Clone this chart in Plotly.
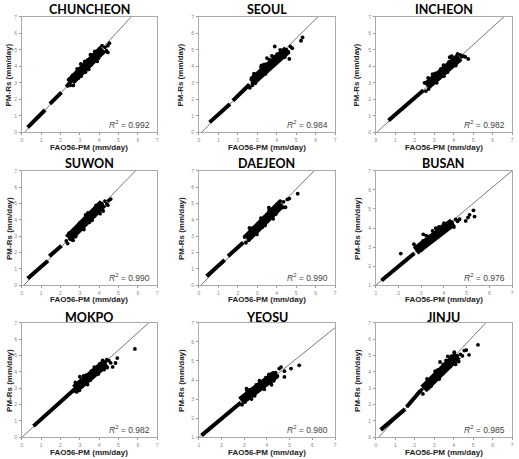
import plotly.graph_objects as go

# ---------------- data ----------------
stations = ["CHUNCHEON", "SEOUL", "INCHEON", "SUWON", "DAEJEON", "BUSAN", "MOKPO", "YEOSU", "JINJU"]
r2_values = [0.992, 0.984, 0.982, 0.990, 0.990, 0.976, 0.982, 0.980, 0.985]
axis_min = [0, 0, 0, 0, 0, 1, 0, 1, 0]
fit_slope = [1.268, 1.17, 1.07, 1.21, 1.20, 1.00, 1.065, 0.957, 1.27]
fit_intercept = [-0.18, -0.16, -0.05, -0.12, -0.12, 0.0, 0.0, 0.043, -0.18]
tick_values = [0, 1, 2, 3, 4, 5, 6, 7]

# dense low-range bands (vertices, None = gap)
chuncheon_band_x = [0.3, 1.2, None, 1.45, 2.05, None, 2.3, 2.55]
chuncheon_band_y = [0.3, 1.35, None, 1.72, 2.42, None, 2.75, 3.1]
seoul_band_x = [0.55, 1.6, None, 1.75, 2.6]
seoul_band_y = [0.6, 1.72, None, 1.92, 2.9]
incheon_band_x = [0.65, 2.45]
incheon_band_y = [0.72, 2.55]
suwon_band_x = [0.3, 1.35, None, 1.42, 2.05]
suwon_band_y = [0.42, 1.5, None, 1.78, 2.42]
daejeon_band_x = [0.4, 1.33, None, 1.5, 2.28]
daejeon_band_y = [0.55, 1.55, None, 1.78, 2.62]
busan_band_x = [1.25, 2.7]
busan_band_y = [1.25, 2.68]
mokpo_band_x = [0.6, 2.9]
mokpo_band_y = [0.68, 3.12]
yeosu_band_x = [1.12, 2.85]
yeosu_band_y = [1.1, 2.82]
jinju_band_x = [0.25, 1.5, None, 1.58, 2.3]
jinju_band_y = [0.45, 1.72, None, 1.85, 2.85]

# dense cores of the upper clouds
chuncheon_core_x = [2.55, 4.2]
chuncheon_core_y = [3.1, 5.05]
seoul_core_x = [2.75, 4.55]
seoul_core_y = [3.1, 5.0]
incheon_core_x = [2.6, 4.3]
incheon_core_y = [2.8, 4.55]
suwon_core_x = [2.4, 4.2]
suwon_core_y = [2.85, 5.0]
daejeon_core_x = [2.45, 4.25]
daejeon_core_y = [2.85, 5.0]
busan_core_x = [2.75, 4.4]
busan_core_y = [2.8, 4.3]
mokpo_core_x = [2.75, 4.35]
mokpo_core_y = [2.95, 4.55]
yeosu_core_x = [2.85, 4.4]
yeosu_core_y = [2.9, 4.3]
jinju_core_x = [2.45, 4.2]
jinju_core_y = [2.95, 5.0]

# scattered points
chuncheon_x = [2.42, 2.5, 2.58, 2.66, 2.72, 2.8, 2.86, 2.93, 3.0, 3.06, 3.12, 3.2, 3.26, 3.33, 3.4, 3.46, 3.52, 3.58, 3.65, 3.72, 3.78, 3.84, 3.9, 3.96, 4.02, 4.08, 4.15, 4.22, 4.3, 4.38, 4.45, 4.53, 3.05, 2.62, 3.55, 3.9, 4.45, 3.3]
chuncheon_y = [3.19, 2.84, 3.19, 2.84, 3.47, 3.32, 3.85, 3.29, 3.77, 3.4, 3.83, 3.68, 4.3, 3.94, 4.38, 3.81, 4.4, 4.08, 4.67, 4.46, 4.91, 4.54, 4.87, 4.49, 5.05, 4.85, 5.25, 4.85, 5.15, 4.95, 5.25, 5.4, 4.14, 3.45, 4.7, 4.3, 4.84, 3.65]

seoul_x = [2.62, 2.7, 2.76, 2.83, 2.9, 2.96, 3.03, 3.1, 3.16, 3.22, 3.28, 3.35, 3.42, 3.48, 3.55, 3.62, 3.68, 3.75, 3.82, 3.88, 3.95, 4.02, 4.1, 4.18, 4.26, 4.34, 4.42, 4.5, 4.6, 4.7, 4.8, 3.9, 4.65, 5.25, 5.33, 3.2, 3.5, 2.75]
seoul_y = [2.7, 3.2, 3.02, 3.55, 2.98, 3.45, 3.19, 3.62, 3.44, 4.06, 3.68, 4.11, 3.54, 4.13, 3.81, 4.4, 4.17, 4.63, 4.26, 4.58, 4.21, 4.74, 4.59, 5.0, 4.57, 4.92, 4.56, 5.01, 4.87, 5.2, 5.1, 5.2, 4.45, 5.55, 5.75, 3.95, 4.5, 2.85]

incheon_x = [2.5, 2.57, 2.64, 2.71, 2.78, 2.85, 2.92, 2.99, 3.06, 3.13, 3.2, 3.27, 3.34, 3.41, 3.48, 3.55, 3.62, 3.69, 3.76, 3.83, 3.9, 3.97, 4.04, 4.11, 4.18, 4.26, 4.34, 4.42, 4.5, 4.6, 4.75, 3.8, 4.2, 3.5, 2.69]
incheon_y = [3.0, 2.5, 2.92, 2.62, 3.07, 2.9, 3.52, 3.15, 3.57, 3.0, 3.59, 3.27, 3.84, 3.62, 4.07, 3.7, 4.02, 3.65, 4.27, 4.1, 4.62, 4.05, 4.42, 4.05, 4.47, 4.31, 4.69, 4.58, 4.62, 4.57, 4.45, 4.55, 4.75, 3.4, 3.3]

suwon_x = [2.3, 2.37, 2.44, 2.51, 2.58, 2.65, 2.72, 2.79, 2.86, 2.93, 3.0, 3.07, 3.14, 3.21, 3.28, 3.35, 3.42, 3.49, 3.56, 3.63, 3.7, 3.77, 3.84, 3.91, 3.98, 4.05, 4.13, 4.21, 4.3, 4.4, 4.5, 4.6, 3.3, 3.95, 2.5, 4.45]
suwon_y = [2.71, 2.55, 3.18, 2.82, 3.25, 2.75, 3.29, 2.98, 3.56, 3.35, 3.81, 3.44, 3.78, 3.41, 4.05, 3.88, 4.42, 3.85, 4.34, 3.97, 4.41, 4.24, 4.88, 4.51, 4.95, 4.38, 5.0, 4.54, 5.15, 4.97, 5.18, 5.27, 4.3, 4.55, 3.05, 4.9]

daejeon_x = [2.35, 2.42, 2.49, 2.56, 2.63, 2.7, 2.77, 2.84, 2.91, 2.98, 3.05, 3.12, 3.19, 3.26, 3.33, 3.4, 3.47, 3.54, 3.61, 3.68, 3.75, 3.82, 3.89, 3.96, 4.03, 4.1, 4.18, 4.26, 4.35, 4.45, 4.55, 4.65, 5.08, 2.6, 3.6, 4.3, 3.0]
daejeon_y = [2.95, 2.6, 2.99, 2.75, 3.26, 3.04, 3.5, 3.14, 3.47, 3.11, 3.74, 3.57, 4.11, 3.54, 4.03, 3.66, 4.09, 3.93, 4.56, 4.2, 4.63, 4.06, 4.67, 4.35, 4.94, 4.72, 5.15, 4.84, 5.1, 4.77, 5.25, 5.3, 5.6, 3.5, 4.75, 4.75, 3.3]

busan_x = [2.8, 2.87, 2.94, 3.01, 3.08, 3.15, 3.22, 3.29, 3.36, 3.43, 3.5, 3.57, 3.64, 3.71, 3.78, 3.85, 3.92, 3.99, 4.06, 4.13, 4.2, 4.28, 4.36, 4.44, 4.52, 4.6, 4.69, 3.09, 2.1, 2.68, 4.96, 5.06, 5.13, 5.3, 5.35, 3.5, 4.0]
busan_y = [3.01, 2.77, 3.01, 2.85, 3.32, 3.21, 3.6, 3.21, 3.56, 3.32, 3.64, 3.53, 3.99, 3.74, 4.06, 3.67, 4.1, 3.89, 4.21, 4.07, 4.3, 4.05, 4.3, 4.05, 4.45, 4.35, 4.46, 3.67, 2.66, 3.15, 4.37, 4.55, 4.69, 4.93, 4.6, 3.85, 4.25]

mokpo_x = [2.7, 2.77, 2.84, 2.91, 2.98, 3.05, 3.12, 3.19, 3.26, 3.33, 3.4, 3.47, 3.54, 3.61, 3.68, 3.75, 3.82, 3.89, 3.96, 4.03, 4.1, 4.18, 4.26, 4.34, 4.42, 4.5, 4.6, 4.85, 4.94, 5.85, 3.0, 4.7, 4.4]
mokpo_y = [2.83, 3.35, 2.77, 3.25, 2.87, 3.3, 3.12, 3.75, 3.37, 3.8, 3.22, 3.82, 3.49, 4.06, 3.84, 4.29, 3.92, 4.24, 3.87, 4.49, 4.32, 4.7, 4.14, 4.62, 4.26, 4.69, 4.55, 4.54, 4.84, 5.4, 3.7, 4.3, 4.75]

yeosu_x = [2.9, 2.97, 3.04, 3.11, 3.18, 3.25, 3.32, 3.39, 3.46, 3.53, 3.6, 3.67, 3.74, 3.81, 3.88, 3.95, 4.02, 4.09, 4.16, 4.23, 4.3, 4.38, 4.46, 4.54, 4.62, 4.77, 4.77, 5.06, 5.42, 4.2, 3.1]
yeosu_y = [2.7, 3.04, 2.85, 3.47, 3.09, 3.5, 3.0, 3.51, 3.17, 3.74, 3.51, 3.96, 3.57, 3.89, 3.51, 4.12, 3.94, 4.3, 3.87, 4.34, 3.96, 4.39, 4.21, 4.6, 4.68, 4.46, 4.16, 4.6, 4.77, 3.75, 3.55]

jinju_x = [2.35, 2.42, 2.49, 2.56, 2.63, 2.7, 2.77, 2.84, 2.91, 2.98, 3.05, 3.12, 3.19, 3.26, 3.33, 3.4, 3.47, 3.54, 3.61, 3.68, 3.75, 3.82, 3.89, 3.96, 4.03, 4.1, 4.18, 4.26, 4.35, 4.45, 4.55, 4.65, 4.79, 5.25, 3.3, 4.1, 3.7]
jinju_y = [2.9, 2.65, 3.18, 3.02, 3.56, 3.0, 3.49, 3.13, 3.57, 3.4, 4.04, 3.68, 4.12, 3.56, 4.17, 3.86, 4.45, 4.24, 4.7, 4.34, 4.68, 4.32, 4.96, 4.8, 5.2, 4.78, 4.98, 4.63, 5.07, 4.97, 5.3, 5.33, 5.04, 5.65, 4.6, 4.45, 4.95]

band_x = [chuncheon_band_x, seoul_band_x, incheon_band_x, suwon_band_x, daejeon_band_x, busan_band_x, mokpo_band_x, yeosu_band_x, jinju_band_x]
band_y = [chuncheon_band_y, seoul_band_y, incheon_band_y, suwon_band_y, daejeon_band_y, busan_band_y, mokpo_band_y, yeosu_band_y, jinju_band_y]
core_x = [chuncheon_core_x, seoul_core_x, incheon_core_x, suwon_core_x, daejeon_core_x, busan_core_x, mokpo_core_x, yeosu_core_x, jinju_core_x]
core_y = [chuncheon_core_y, seoul_core_y, incheon_core_y, suwon_core_y, daejeon_core_y, busan_core_y, mokpo_core_y, yeosu_core_y, jinju_core_y]
cloud_x = [chuncheon_x, seoul_x, incheon_x, suwon_x, daejeon_x, busan_x, mokpo_x, yeosu_x, jinju_x]
cloud_y = [chuncheon_y, seoul_y, incheon_y, suwon_y, daejeon_y, busan_y, mokpo_y, yeosu_y, jinju_y]

# ---------------- layout geometry (pixels) ----------------
W, H = 519, 459
col_px = [(21, 157), (199, 336), (377, 514)]
row_px = [(14, 131), (170, 286), (324, 440)]
title_y_px = [7, 163, 319]
xlabel_y_px = [146, 300, 455]
ylabel_x_px = [8, 181, 358]

fig = go.Figure()
layout_axes = {}
annotations = []

for i, name in enumerate(stations):
    r, c = divmod(i, 3)
    n = i + 1
    xa = "x" if n == 1 else f"x{n}"
    ya = "y" if n == 1 else f"y{n}"
    x0, x1 = col_px[c]
    t0, t1 = row_px[r]
    lo = axis_min[i]
    ticks = [t for t in tick_values if t >= lo]

    lx = [lo, 7]
    ly = [fit_slope[i] * v + fit_intercept[i] for v in lx]
    fig.add_trace(go.Scatter(x=lx, y=ly, mode="lines", xaxis=xa, yaxis=ya,
                             line=dict(color="#555555", width=0.8), showlegend=False, hoverinfo="skip"))
    fig.add_trace(go.Scatter(x=band_x[i], y=band_y[i], mode="lines", xaxis=xa, yaxis=ya,
                             line=dict(color="black", width=4), showlegend=False, connectgaps=False))
    fig.add_trace(go.Scatter(x=core_x[i], y=core_y[i], mode="lines", xaxis=xa, yaxis=ya,
                             line=dict(color="black", width=9), showlegend=False))
    fig.add_trace(go.Scatter(x=cloud_x[i], y=cloud_y[i], mode="markers", xaxis=xa, yaxis=ya,
                             marker=dict(color="black", size=3.8), showlegend=False))

    axcommon = dict(range=[lo, 7], tickvals=ticks, ticks="outside", ticklen=2, tickwidth=0.6,
                    tickcolor="#999999", showline=True, linecolor="#aaaaaa", linewidth=0.8,
                    mirror=True, showgrid=False, zeroline=False,
                    tickfont=dict(size=5, color="#888888", family="Liberation Sans"))
    xkey = "xaxis" if n == 1 else f"xaxis{n}"
    ykey = "yaxis" if n == 1 else f"yaxis{n}"
    layout_axes[xkey] = dict(axcommon, domain=[x0 / W, x1 / W], anchor=ya, ticklabelstandoff=1)
    layout_axes[ykey] = dict(axcommon, domain=[1 - t1 / H, 1 - t0 / H], anchor=xa, ticklabelstandoff=1)

    xc = (x0 + x1) / 2 / W
    annotations.append(dict(text=f"<b>{name}</b>", x=xc, y=1 - title_y_px[r] / H, xref="paper", yref="paper",
                            showarrow=False, xanchor="center", yanchor="middle",
                            font=dict(family="Lato", size=12.5, color="black")))
    annotations.append(dict(text="<b>FAO56-PM (mm/day)</b>", x=xc, y=1 - xlabel_y_px[r] / H,
                            xref="paper", yref="paper", showarrow=False, xanchor="center", yanchor="middle",
                            font=dict(family="Liberation Sans", size=8, color="#222222")))
    annotations.append(dict(text="<b>PM-Rs (mm/day)</b>", x=ylabel_x_px[c] / W, y=1 - (t0 + t1) / 2 / H,
                            xref="paper", yref="paper", showarrow=False, textangle=-90,
                            xanchor="center", yanchor="middle",
                            font=dict(family="Liberation Sans", size=8, color="#222222")))
    annotations.append(dict(text=f"<i>R</i><sup>2</sup> = {r2_values[i]:.3f}",
                            x=0.965, y=0.07, xref=f"{xa} domain", yref=f"{ya} domain",
                            showarrow=False, xanchor="right", yanchor="middle",
                            font=dict(family="Liberation Sans", size=8.5, color="#444444")))

fig.update_layout(width=W, height=H, margin=dict(l=0, r=0, t=0, b=0),
                  paper_bgcolor="white", plot_bgcolor="white",
                  annotations=annotations, **layout_axes)

fig.write_html("out.html")
